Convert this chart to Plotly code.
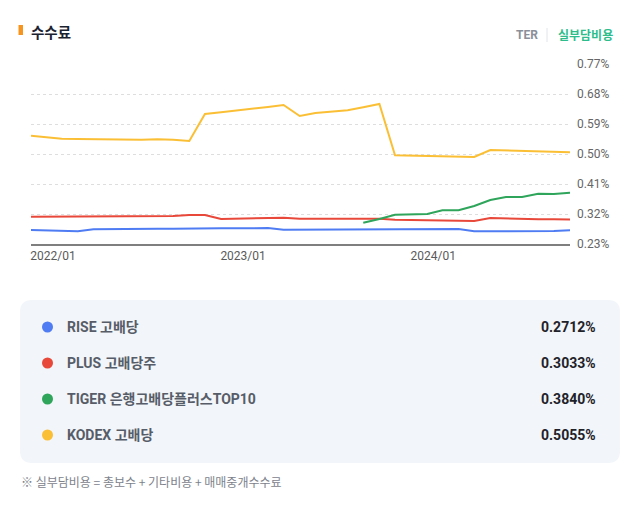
import pandas as pd
import plotly.graph_objects as go

# monthly points, 2022/01 .. 2024/11
MONTHS = pd.date_range("2022-01-01", periods=35, freq="MS")

RISE = [0.272, 0.271, 0.270, 0.268, 0.274, 0.275, 0.275, 0.276, 0.276, 0.276,
        0.277, 0.277, 0.277, 0.277, 0.277, 0.278, 0.273, 0.273, 0.273, 0.273,
        0.273, 0.273, 0.273, 0.273, 0.274, 0.274, 0.275, 0.275, 0.268, 0.268,
        0.268, 0.268, 0.269, 0.269, 0.2712]
PLUS = [0.312, 0.312, 0.312, 0.312, 0.312, 0.313, 0.313, 0.313, 0.314, 0.314,
        0.317, 0.317, 0.305, 0.306, 0.307, 0.308, 0.309, 0.306, 0.306, 0.306,
        0.306, 0.306, 0.306, 0.303, 0.302, 0.301, 0.300, 0.300, 0.299, 0.308,
        0.306, 0.305, 0.304, 0.304, 0.3033]
TIGER = [None] * 21 + [0.294, 0.305, 0.318, 0.318, 0.320, 0.331, 0.331, 0.344,
                       0.362, 0.371, 0.371, 0.381, 0.380, 0.384]
KODEX = [0.555, 0.550, 0.546, 0.545, 0.544, 0.543, 0.543, 0.543, 0.544, 0.543,
         0.539, 0.620, 0.625, 0.630, 0.636, 0.641, 0.647, 0.614, 0.623, 0.627,
         0.631, 0.640, 0.650, 0.496, 0.495, 0.494, 0.492, 0.491, 0.491, 0.512,
         0.511, 0.510, 0.509, 0.507, 0.5055]

NAMES = ["RISE 고배당", "PLUS 고배당주", "TIGER 은행고배당플러스TOP10", "KODEX 고배당"]
LATEST = ["0.2712%", "0.3033%", "0.3840%", "0.5055%"]
COLORS = ["#4f7cf3", "#e8483a", "#2ea55a", "#fbbf35"]
YTICKS = [0.23, 0.32, 0.41, 0.50, 0.59, 0.68, 0.77]
XTICKS = ["2022-01-01", "2023-01-01", "2024-01-01"]
XTICK_TEXT = ["2022/01", "2023/01", "2024/01"]

W, H = 644, 507
L, R, T, B = 31, 74, 64, 263
PW, PH = W - L - R, H - T - B
FONT = "Roboto, Noto Sans CJK KR, sans-serif"
KFONT = "Noto Sans CJK KR, sans-serif"


def px(x):
    return (x - L) / PW


def py(y):
    return (H - B - y) / PH


fig = go.Figure()
for series, name, col in zip([RISE, PLUS, TIGER, KODEX], NAMES, COLORS):
    fig.add_trace(go.Scatter(x=MONTHS, y=series, mode="lines", name=name,
                             line=dict(color=col, width=2), connectgaps=False))

shapes = []
annots = []

# header
shapes.append(dict(type="rect", xref="paper", yref="paper", x0=px(18.5), x1=px(23),
                   y0=py(25), y1=py(35), fillcolor="#f7941d", line_width=0))
annots.append(dict(text="<b>수수료</b>", x=px(29), y=py(31), xanchor="left", yanchor="middle",
                   font=dict(family=KFONT, size=14.5, color="#1b2230")))
annots.append(dict(text="<b>TER</b>", x=px(540), y=py(35), xanchor="right", yanchor="middle",
                   font=dict(family=FONT, size=12, color="#8a8f99")))
shapes.append(dict(type="line", xref="paper", yref="paper", x0=px(547), x1=px(547),
                   y0=py(28), y1=py(42), line=dict(color="#e2e4e8", width=1)))
annots.append(dict(text="<b>실부담비용</b>", x=px(556), y=py(35), xanchor="left", yanchor="middle",
                   font=dict(family=KFONT, size=12, color="#2dbd8c")))

# legend panel with rounded corners
x0, x1, y0, y1, r = 20, 620, 300, 463, 12
rx, ry = r / PW, r / PH
X0, X1, Y0, Y1 = px(x0), px(x1), py(y0), py(y1)
path = (f"M {X0+rx},{Y0} L {X1-rx},{Y0} Q {X1},{Y0} {X1},{Y0-ry} "
        f"L {X1},{Y1+ry} Q {X1},{Y1} {X1-rx},{Y1} L {X0+rx},{Y1} "
        f"Q {X0},{Y1} {X0},{Y1+ry} L {X0},{Y0-ry} Q {X0},{Y0} {X0+rx},{Y0} Z")
shapes.append(dict(type="path", xref="paper", yref="paper", path=path,
                   fillcolor="#f2f5f9", line_width=0, layer="below"))

ROW_Y = [327, 363, 399, 435]
for name, val, col, ry_ in zip(NAMES, LATEST, COLORS, ROW_Y):
    shapes.append(dict(type="circle", xref="paper", yref="paper",
                       xsizemode="pixel", ysizemode="pixel",
                       xanchor=px(47.5), yanchor=py(ry_),
                       x0=-5.5, x1=5.5, y0=-5.5, y1=5.5,
                       fillcolor=col, line_width=0))
    annots.append(dict(text=f"<b>{name}</b>", x=px(65), y=py(ry_), xanchor="left",
                       yanchor="middle", font=dict(family=FONT, size=14, color="#575d68")))
    annots.append(dict(text=f"<b>{val}</b>", x=px(598), y=py(ry_), xanchor="right",
                       yanchor="middle", font=dict(family=FONT, size=14, color="#1f2229")))

annots.append(dict(text="※ 실부담비용 = 총보수 + 기타비용 + 매매중개수수료", x=px(19), y=py(482),
                   xanchor="left", yanchor="middle",
                   font=dict(family=KFONT, size=12, color="#7d828b")))

for a in annots:
    a.update(xref="paper", yref="paper", showarrow=False)

fig.update_layout(
    width=W, height=H, margin=dict(l=L, r=R, t=T, b=B),
    paper_bgcolor="white", plot_bgcolor="white", showlegend=False,
    font=dict(family=FONT, size=12, color="#666"),
    shapes=shapes, annotations=annots,
    xaxis=dict(range=[MONTHS[0], MONTHS[-1]], tickvals=XTICKS, ticktext=XTICK_TEXT,
               ticklabelshift=22, showgrid=False, zeroline=False,
               showline=True, linecolor="#7f7f7f", linewidth=2,
               tickfont=dict(size=12, color="#5a5a5a"), fixedrange=True),
    yaxis=dict(range=[0.23, 0.77], tickvals=YTICKS,
               ticktext=[f"{v:.2f}%" for v in YTICKS], side="right",
               showgrid=True, gridcolor="#dedede", griddash="dot", gridwidth=1,
               zeroline=False, ticklabelstandoff=6,
               tickfont=dict(size=12, color="#666"), fixedrange=True),
)

# page has a default 8px body margin; drop it so the figure sits at the window origin
fig.write_html("out.html", config={"displayModeBar": False},
               post_script="document.body.style.margin='0px';")
